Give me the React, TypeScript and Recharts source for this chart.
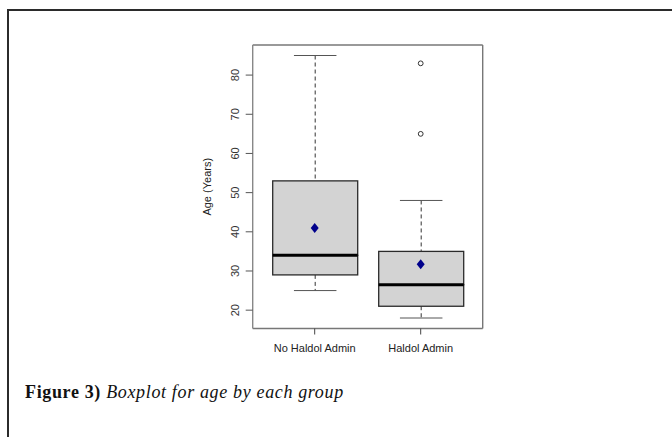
import React from 'react';
import { ComposedChart, Bar, Scatter, XAxis, YAxis } from 'recharts';

// boxplot summary per group
const groups = ['No Haldol Admin', 'Haldol Admin'];
const lowerWhisker = [25, 18];
const q1 = [29, 21];
const median = [34, 26.5];
const q3 = [53, 35];
const upperWhisker = [85, 48];
const means = [41, 31.7];
const outlierA = [null, 83];
const outlierB = [null, 65];
const yTicks = [20, 30, 40, 50, 60, 70, 80];

const data = groups.map((g, i) => ({
  group: g,
  base: lowerWhisker[i],
  lowWhisk: q1[i] - lowerWhisker[i],
  lowBox: median[i] - q1[i],
  highBox: q3[i] - median[i],
  highWhisk: upperWhisker[i] - q3[i],
  mean: means[i],
  outA: outlierA[i],
  outB: outlierB[i],
}));

const Nothing = () => null;

const LowWhisker = (p: any) => {
  const { x, y, width, height } = p;
  const cx = x + width / 2;
  const cap = width / 4;
  return (
    <g>
      <line x1={cx} x2={cx} y1={y} y2={y + height} stroke="#333" strokeDasharray="4 3" />
      <line x1={cx - cap} x2={cx + cap} y1={y + height} y2={y + height} stroke="#555" />
    </g>
  );
};

const HighWhisker = (p: any) => {
  const { x, y, width, height } = p;
  const cx = x + width / 2;
  const cap = width / 4;
  return (
    <g>
      <line x1={cx} x2={cx} y1={y} y2={y + height} stroke="#333" strokeDasharray="4 3" />
      <line x1={cx - cap} x2={cx + cap} y1={y} y2={y} stroke="#555" />
    </g>
  );
};

const LowBox = (p: any) => {
  const { x, y, width, height } = p;
  return <rect x={x} y={y} width={width} height={height} fill="#d3d3d3" stroke="#2a2a2a" strokeWidth={1.3} />;
};

// upper half of the box, median line drawn on its lower edge
const HighBox = (p: any) => {
  const { x, y, width, height } = p;
  return (
    <g>
      <rect x={x} y={y} width={width} height={height} fill="#d3d3d3" stroke="#2a2a2a" strokeWidth={1.3} />
      <line x1={x} x2={x + width} y1={y + height} y2={y + height} stroke="#000" strokeWidth={3} />
    </g>
  );
};

const Diamond = (p: any) => {
  const { cx, cy } = p;
  if (!Number.isFinite(cx) || !Number.isFinite(cy)) return null;
  return (
    <polygon
      points={`${cx},${cy - 5} ${cx + 4},${cy} ${cx},${cy + 5} ${cx - 4},${cy}`}
      fill="#00008b"
    />
  );
};

const makeOutlier = (key: string) => (p: any) => {
  const { cx, cy, payload } = p;
  if (!payload || payload[key] == null || !Number.isFinite(cy)) return null;
  return <circle cx={cx} cy={cy} r={2.4} fill="#fff" stroke="#333" strokeWidth={1} />;
};
const OutA = makeOutlier('outA');
const OutB = makeOutlier('outB');

const RotTick = (p: any) => {
  const { x, y, payload } = p;
  return (
    <text
      x={x}
      y={y}
      transform={`rotate(-90 ${x} ${y})`}
      textAnchor="middle"
      fill="#333"
      fontSize={11}
      fontFamily="Liberation Sans, Arial, sans-serif"
    >
      {payload.value}
    </text>
  );
};

export default function App() {
  return (
    <div
      style={{
        position: 'absolute',
        left: 0,
        top: 0,
        width: 672,
        height: 437,
        background: '#fff',
        overflow: 'hidden',
      }}
    >
      <div
        style={{
          position: 'absolute',
          left: 7,
          top: 9,
          width: 720,
          height: 500,
          borderTop: '2px solid #2b2b2b',
          borderLeft: '2px solid #2b2b2b',
        }}
      />
      <div style={{ position: 'absolute', left: 0, top: 0 }}>
        <ComposedChart
          width={672}
          height={437}
          data={data}
          margin={{ top: 44, right: 188.3, bottom: 78.5, left: 200 }}
        >
          <XAxis
            dataKey="group"
            type="category"
            padding={{ left: 9, right: 9 }}
            height={30}
            axisLine={{ stroke: '#777', strokeWidth: 1.6 }}
            tickLine={{ stroke: '#444' }}
            tickSize={6}
            tickMargin={10}
            tick={{ fill: '#222', fontSize: 11, fontFamily: 'Liberation Sans, Arial, sans-serif' }}
          />
          <XAxis
            xAxisId="top"
            dataKey="group"
            orientation="top"
            padding={{ left: 9, right: 9 }}
            height={1}
            tick={false}
            tickLine={false}
            axisLine={{ stroke: '#777', strokeWidth: 1.4 }}
          />
          <YAxis
            type="number"
            domain={[15.32, 87.68]}
            allowDataOverflow
            ticks={yTicks}
            width={52.7}
            axisLine={{ stroke: '#888', strokeWidth: 1.4 }}
            tickLine={{ stroke: '#555' }}
            tickSize={7}
            tickMargin={7}
            tick={<RotTick />}
            label={{
              value: 'Age (Years)',
              angle: -90,
              position: 'insideLeft',
              offset: 7,
              fill: '#222',
              fontSize: 11,
              fontFamily: 'Liberation Sans, Arial, sans-serif',
              style: { textAnchor: 'middle' },
            }}
          />
          <YAxis
            yAxisId="right"
            orientation="right"
            type="number"
            domain={[15.32, 87.68]}
            allowDataOverflow
            width={1}
            tick={false}
            tickLine={false}
            axisLine={{ stroke: '#777', strokeWidth: 1.4 }}
          />
          <Bar dataKey="base" stackId="box" barSize={85} shape={<Nothing />} isAnimationActive={false} />
          <Bar dataKey="lowWhisk" stackId="box" barSize={85} shape={<LowWhisker />} isAnimationActive={false} />
          <Bar dataKey="lowBox" stackId="box" barSize={85} shape={<LowBox />} isAnimationActive={false} />
          <Bar dataKey="highBox" stackId="box" barSize={85} shape={<HighBox />} isAnimationActive={false} />
          <Bar dataKey="highWhisk" stackId="box" barSize={85} shape={<HighWhisker />} isAnimationActive={false} />
          <Scatter dataKey="mean" shape={<Diamond />} isAnimationActive={false} />
          <Scatter dataKey="outA" shape={<OutA />} isAnimationActive={false} />
          <Scatter dataKey="outB" shape={<OutB />} isAnimationActive={false} />
          {/* invisible series so the top and right frame axes get drawn */}
          <Scatter
            xAxisId="top"
            yAxisId="right"
            dataKey="mean"
            shape={<Nothing />}
            isAnimationActive={false}
          />
        </ComposedChart>
      </div>
      <div
        style={{
          position: 'absolute',
          left: 25,
          top: 382,
          fontFamily: '"Liberation Serif", "Times New Roman", serif',
          fontSize: 18,
          lineHeight: '20px',
          letterSpacing: 0.65,
          color: '#111',
          whiteSpace: 'nowrap',
        }}
      >
        <b>Figure 3)</b> <i>Boxplot for age by each group</i>
      </div>
    </div>
  );
}
